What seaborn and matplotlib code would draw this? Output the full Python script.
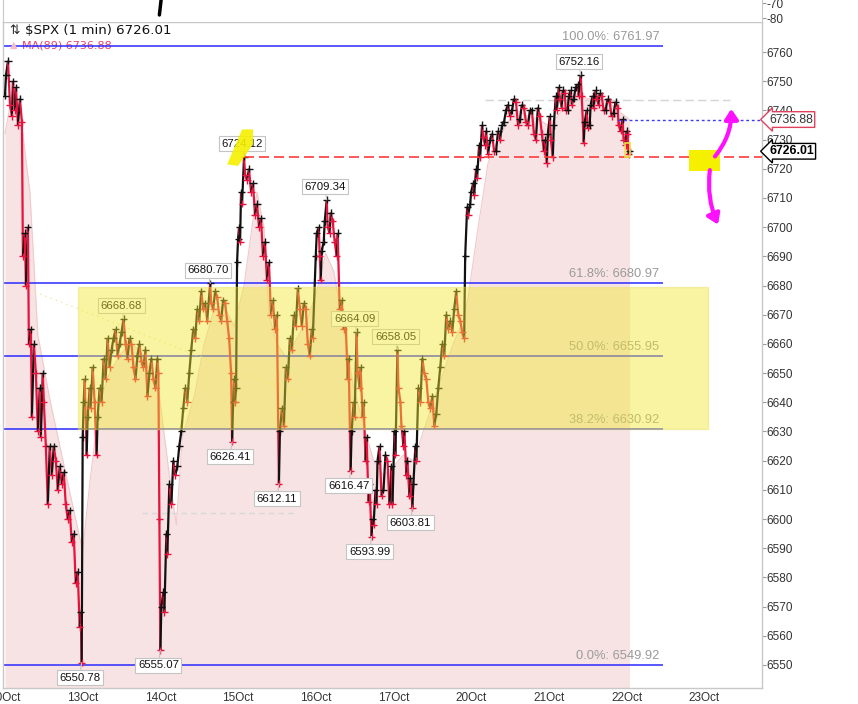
import numpy as np
import pandas as pd
import seaborn as sns
import matplotlib
matplotlib.use('Agg')
from matplotlib import pyplot as plt
from matplotlib.collections import LineCollection
from matplotlib.patches import Rectangle, Polygon, FancyArrowPatch

# x unit = 5-minute slot counted from the 10 Oct open (78 slots per session)
sessions = ['10Oct', '13Oct', '14Oct', '15Oct', '16Oct', '17Oct',
            '20Oct', '21Oct', '22Oct', '23Oct']

price_t = [0, 1, 3, 5, 7, 8, 10, 11, 13, 15, 17, 18, 20, 21, 23, 24, 26, 27, 29, 31, 33, 35, 36, 38, 39, 41, 43, 45,
           47, 49, 51, 53, 55, 57, 59, 61, 63, 65, 67, 69, 71, 73, 75, 76, 77,
           78, 79, 80, 82, 83, 85, 86, 88, 90, 92, 93, 95, 97, 99, 101, 103, 105, 107, 109, 111, 113, 115, 117, 119,
           121, 123, 125, 127, 129, 131, 133, 135, 137, 139, 141, 143, 145, 147, 149, 151, 153, 154,
           155, 156, 157, 159, 160, 162, 163, 165, 167, 169, 171, 173, 175, 177, 179, 181, 183, 185, 187, 189, 191,
           193, 195, 197, 199, 201, 203, 206, 207, 209, 211, 213, 215, 217, 219, 221, 223, 225, 227, 228, 229, 230, 231, 232,
           233, 234, 235, 236, 237, 238, 240, 241, 243, 245, 247, 249, 251, 253, 255, 257, 259, 261, 263, 265, 267, 269,
           271, 273, 275, 276, 278, 280, 282, 284, 286, 288, 290, 292, 294, 296, 298, 300, 302, 304, 306, 308, 309,
           312, 313, 315, 316, 317, 318, 320, 321, 323, 324, 326, 327, 329, 331, 333, 334, 336, 338, 340, 342, 344, 345,
           347, 348, 350, 351, 353, 354, 356, 357, 359, 360, 362, 363, 365, 366, 368, 369, 370, 372, 373, 374, 376, 378,
           380, 382, 384,
           386, 388, 389, 391, 392, 394, 395, 397, 398, 400, 401, 403, 404, 406, 407, 409, 410, 412, 413, 415, 417, 419,
           421, 423, 425, 427, 429, 431, 433, 435, 437, 439, 441, 443, 445, 447, 449, 451, 453, 455, 457, 459, 461,
           462, 464, 465, 467, 468, 470, 471, 473, 474, 476, 477, 479, 480, 482, 483, 485, 487, 489, 491, 493, 495, 497,
           499, 501, 503, 505, 507, 509, 511, 513, 515, 517, 519, 521, 523, 525, 527, 529, 531, 533, 535, 537, 539, 541,
           542, 544, 545, 547, 548, 550, 551, 553, 554, 556, 557, 559, 560, 562, 563, 565, 566, 568, 569, 571, 573, 575,
           576, 578, 579, 581, 582, 584, 585, 587, 588, 590, 591, 593, 594, 596, 597, 599, 601, 603, 605, 607, 609, 611,
           613, 615, 616, 618,
           620, 621, 623, 624, 625, 626, 627]
price = [6745, 6752, 6757, 6742, 6738, 6750, 6740, 6748, 6735, 6744, 6736, 6690, 6698, 6680, 6700, 6660, 6665, 6635,
         6660, 6650, 6630, 6645, 6628, 6650, 6640, 6625, 6605, 6625,
         6615, 6625, 6620, 6610, 6618, 6612, 6616, 6605, 6600, 6603, 6592, 6595, 6578, 6582, 6563, 6568, 6550.78,
         6628, 6640, 6648, 6622, 6635, 6645, 6638, 6652, 6640, 6622, 6635, 6645, 6640, 6655, 6648, 6662, 6652, 6658,
         6662, 6665, 6656, 6660, 6664, 6668.68,
         6660, 6655, 6662, 6660, 6652, 6648, 6656, 6660, 6654, 6652, 6658, 6642, 6650, 6655, 6648, 6645, 6655, 6650,
         6600, 6555.07, 6570, 6575, 6568, 6595, 6588, 6612, 6605, 6620, 6615, 6618, 6625, 6630, 6638, 6645, 6640, 6650,
         6658, 6665, 6662,
         6672, 6668, 6678, 6672, 6674, 6668, 6680.70, 6674, 6672, 6678, 6676, 6670, 6668, 6675, 6674, 6668, 6662, 6650,
         6626.41, 6640, 6648, 6640, 6645,
         6688, 6696, 6700, 6695, 6712, 6708, 6724.12, 6718, 6716, 6720, 6712, 6715, 6704, 6708, 6700, 6703, 6690, 6695,
         6682, 6688, 6670, 6675,
         6665, 6670, 6612.11, 6630, 6638, 6632, 6652, 6648, 6662, 6658, 6670, 6666, 6679, 6672, 6666, 6674, 6672, 6660,
         6656, 6665, 6662,
         6690, 6698, 6700, 6690, 6682, 6692, 6695, 6702, 6709.34, 6700, 6698, 6705, 6702, 6695, 6690, 6698, 6672, 6675,
         6665, 6668, 6648, 6655,
         6616.47, 6630, 6640, 6635, 6664.09, 6650, 6645, 6652, 6635, 6640, 6620, 6628, 6606, 6612, 6593.99, 6600, 6598,
         6610, 6605, 6620, 6625, 6608,
         6610, 6622, 6620,
         6605, 6618, 6605, 6630, 6622, 6658.05, 6645, 6640, 6632, 6625, 6630, 6615, 6620, 6608, 6614, 6603.81, 6612,
         6625, 6620, 6645, 6640, 6655,
         6650, 6648, 6640, 6638, 6642, 6632, 6636, 6645, 6652, 6660, 6656, 6670, 6665, 6668, 6664, 6672, 6678, 6670,
         6668, 6664, 6662,
         6690, 6707, 6704, 6708, 6712, 6715, 6711, 6720, 6717, 6728, 6724, 6735, 6731, 6728, 6733, 6725, 6730, 6732,
         6726, 6726, 6733, 6730,
         6735, 6736, 6740, 6742, 6738, 6740, 6744, 6743, 6735, 6737, 6742, 6741, 6736, 6735, 6740, 6740, 6732, 6730,
         6741, 6738, 6732, 6726,
         6730, 6722, 6732, 6738, 6730, 6724, 6735, 6745, 6740, 6748, 6744, 6741, 6747, 6746, 6740, 6740, 6745, 6747,
         6742, 6744, 6748, 6749,
         6745, 6752.16, 6745, 6729, 6736, 6740, 6734, 6735, 6742, 6745, 6741, 6747, 6744, 6742, 6746, 6745, 6740, 6740,
         6744, 6743, 6738, 6739,
         6743, 6741, 6735, 6733,
         6737, 6730, 6728, 6733, 6732, 6725, 6726.01]

ma_t = [0, 8, 15, 25, 33, 45, 62, 78, 85, 95, 105, 115, 125, 135, 145, 155, 165, 172, 178, 190, 200, 210, 220, 230,
        240, 248, 253, 260, 265, 273, 283, 293, 303, 313, 322, 330, 340, 350, 360, 370, 380, 390, 400, 410, 420,
        430, 440, 450, 460, 465, 475, 485, 495, 505, 515, 525, 535, 545, 555, 565, 575, 585, 595, 605, 615, 627]
ma = [6732, 6747, 6740, 6712, 6663, 6641, 6614, 6589, 6612, 6640, 6650, 6656, 6660, 6658, 6652, 6642, 6615, 6598, 6628, 6642, 6660, 6672, 6673, 6666,
      6680, 6700, 6712, 6700, 6670, 6660, 6655, 6662, 6668, 6678, 6691, 6685, 6665, 6645, 6632, 6620, 6615, 6618, 6622, 6620, 6630,
      6640, 6650, 6660, 6668, 6676, 6700, 6722, 6730, 6736, 6740, 6738, 6737, 6735, 6738, 6743, 6746, 6744, 6744, 6743, 6740, 6736.88]

fib_pct = ['100.0', '61.8', '50.0', '38.2', '0.0']
fib_level = [6761.97, 6680.97, 6655.95, 6630.92, 6549.92]

high_labels = [6724.12, 6709.34, 6680.70, 6668.68, 6664.09, 6658.05, 6752.16]
low_labels = [6626.41, 6612.11, 6616.47, 6593.99, 6603.81, 6550.78, 6555.07]

last_price = 6726.01
ma_last = 6736.88
resistance = 6724.12
zone_low, zone_high = 6630.92, 6679.5
zone_t = (73, 706)
upper_dash = 6743.5
lower_dash = 6602.0

osc_t = [156.7, 155.0]
osc = [-67.8, -77.8]

sns.set_style('white')
plt.rcParams['font.family'] = ['Liberation Sans', 'DejaVu Sans']
plt.rcParams['axes.unicode_minus'] = False

fig = plt.figure(figsize=(8.58, 7.04), dpi=100)
ax = fig.add_axes([3 / 858, 16 / 704, 759 / 858, 666 / 704])
ax_top = fig.add_axes([3 / 858, 682 / 704, 759 / 858, 22 / 704])

xmin, xmax = -2, 760
ymin, ymax = 6542.1, 6770.3

# MA(89) area
ax.fill_between(ma_t, ma, ymin, color='#f7e3e3', lw=0, zorder=1)
sns.lineplot(x=ma_t, y=ma, color='#f1c9cd', lw=0.8, ax=ax, zorder=1.5)

# fib levels
for pct, lvl in zip(fib_pct, fib_level):
    ax.hlines(lvl, xmin, 661, color='#2a2aff', lw=1.1, zorder=2)
    ax.annotate(f'{pct}%: {lvl:.2f}', xy=(657, lvl), xytext=(0, 3), textcoords='offset pixels',
                ha='right', va='bottom', fontsize=9.3, color='#9a9a9a', zorder=5)

ax.hlines(upper_dash, 482, 728, color='#d4d4d4', lw=1, linestyles=(0, (6, 3)), zorder=2)
ax.hlines(lower_dash, 138, 292, color='#d8d8d8', lw=1, linestyles=(0, (4, 3)), zorder=2)
ax.plot([25, 300], [6678.5, 6641.8], color='#f0eaa0', lw=1, ls=(0, (1, 3)), zorder=2)

# price bars: black for up moves, red for down moves
df = pd.DataFrame({'t': price_t, 'p': price})
df['move'] = np.where(df['p'].diff().fillna(1) >= 0, 'up', 'down')
pts = df[['t', 'p']].to_numpy()
segs = np.stack([pts[:-1], pts[1:]], axis=1)
seg_cols = ['#111111' if b >= a else '#e5133d' for a, b in zip(df['p'][:-1], df['p'][1:])]
ax.add_collection(LineCollection(segs, colors=seg_cols, lw=1.6, zorder=3))
sns.scatterplot(data=df, x='t', y='p', hue='move', palette={'up': '#111111', 'down': '#e5133d'},
                marker='+', s=26, linewidth=1.0, legend=False, ax=ax, zorder=3.5)

# resistance and ma levels
ax.hlines(resistance, 240, xmax, color='#ff3b3b', lw=1.2, linestyles=(0, (6, 3)), zorder=4)
ax.hlines(ma_last, 615, xmax, color='#3a3aff', lw=1, linestyles=(0, (2, 2)), zorder=4)

# extreme labels
box = dict(boxstyle='square,pad=0.22', fc='white', ec='#c4c4c4', lw=0.8)
for v in high_labels + low_labels:
    i = int(np.argmin(np.abs(df['p'] - v)))
    up = v in high_labels
    ax.annotate(f'{v:.2f}', xy=(df['t'][i], v), xytext=(-2, 13 if up else -15), textcoords='offset pixels',
                ha='center', va='center', fontsize=8.2, color='#111111', bbox=box, zorder=5,
                arrowprops=dict(arrowstyle='-', color='#c4c4c4', lw=0.8, shrinkA=0, shrinkB=0))

# yellow zone on top
ax.add_patch(Rectangle((zone_t[0], zone_low), zone_t[1] - zone_t[0], zone_high - zone_low,
                       fc='#f0e830', ec='#e8e060', alpha=0.45, lw=1, zorder=6))

# hand drawn marks
ax.add_patch(Polygon([(223, 6721.5), (238, 6733.5), (249, 6733.5), (249, 6728.5), (234, 6721.0)],
                     closed=True, fc='#f5f000', ec='none', alpha=0.9, zorder=6))
ax.add_patch(Rectangle((687, 6719.2), 31, 7.2, fc='#f5f000', ec='none', zorder=6))
ax.add_patch(Rectangle((622, 6724.2), 5, 4.6, fc='none', ec='#f0e040', lw=1.2, zorder=6))
ax.add_patch(FancyArrowPatch((711, 6723.5), (729, 6741.5), connectionstyle='arc3,rad=0.2',
                             arrowstyle='-|>,head_length=6,head_width=4', color='#ff10ff', lw=3, zorder=7))
ax.add_patch(FancyArrowPatch((708, 6720.5), (717, 6700.0), connectionstyle='arc3,rad=0.15',
                             arrowstyle='-|>,head_length=6,head_width=4', color='#ff10ff', lw=3, zorder=7))

# right side price tags
ax.annotate(f'{ma_last:.2f}', xy=(1.0, ma_last), xycoords=('axes fraction', 'data'), xytext=(7, 0),
            textcoords='offset pixels', ha='left', va='center', fontsize=8.8, color='#333333',
            bbox=dict(boxstyle='larrow,pad=0.15', fc='white', ec='#e0405e', lw=1), annotation_clip=False, zorder=8)
ax.annotate(f'{last_price:.2f}', xy=(1.0, last_price), xycoords=('axes fraction', 'data'), xytext=(7, 0),
            textcoords='offset pixels', ha='left', va='center', fontsize=8.8, color='black', fontweight='bold',
            bbox=dict(boxstyle='larrow,pad=0.15', fc='white', ec='black', lw=1), annotation_clip=False, zorder=8)

# legend lines
ax.text(6 / 759, 1 - 9 / 666, '⇅', transform=ax.transAxes, fontsize=9, va='center', ha='left',
        family=['DejaVu Sans'])
ax.text(22 / 759, 1 - 9 / 666, f'$SPX (1 min) {last_price:.2f}', transform=ax.transAxes, fontsize=9.6,
        va='center', ha='left', color='#111111', family=['DejaVu Sans'])
ax.text(7 / 759, 1 - 23 / 666, '▲', transform=ax.transAxes, fontsize=7, va='center', ha='left',
        color='#f3bcc6', family=['DejaVu Sans'])
ax.text(19 / 759, 1 - 23 / 666, f'MA(89) {ma_last:.2f}', transform=ax.transAxes, fontsize=8,
        va='center', ha='left', color='#e8406a', family=['DejaVu Sans'], zorder=1)

ax.set_xlim(xmin, xmax)
ax.set_ylim(ymin, ymax)
ax.set_xlabel('')
ax.set_ylabel('')
ax.yaxis.tick_right()
ax.set_yticks(range(6550, 6761, 10))
ax.set_xticks([78 * k for k in range(len(sessions))])
ax.set_xticklabels(sessions)
ax.tick_params(axis='y', length=3, pad=0.5, labelsize=8.5, color='#999999', labelcolor='#333333')
ax.tick_params(axis='x', length=0, pad=3, labelsize=8.5, labelcolor='#333333')
for s in ax.spines.values():
    s.set_color('#c8c8c8')
    s.set_linewidth(1)
    s.set_visible(True)

# oscillator strip above
ax_top.plot(osc_t, osc, color='black', lw=2.5, solid_capstyle='round')
ax_top.set_xlim(xmin, xmax)
ax_top.set_ylim(-82.5, -67.8)
ax_top.yaxis.tick_right()
ax_top.set_yticks([-70, -80])
ax_top.set_xticks([])
ax_top.tick_params(axis='y', length=3, pad=0.5, labelsize=8.5, color='#999999', labelcolor='#333333')
for side, s in ax_top.spines.items():
    s.set_color('#c8c8c8')
    s.set_visible(side in ('left', 'right'))

fig.savefig('out.png', dpi=100)
